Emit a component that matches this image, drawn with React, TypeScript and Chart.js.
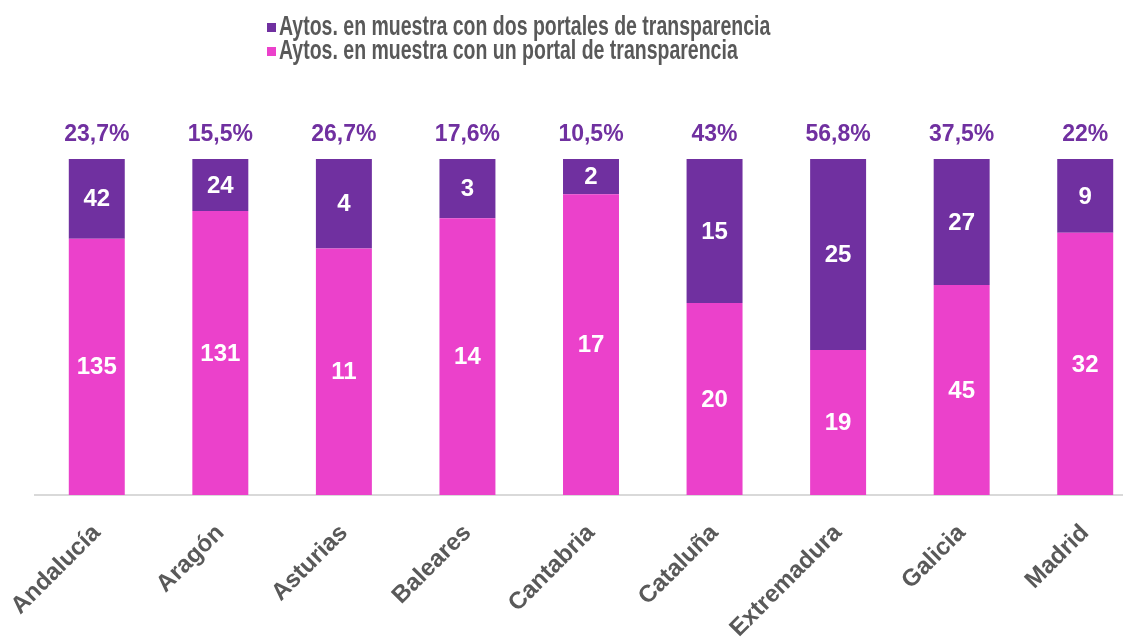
import React, { useEffect, useRef } from "react";
import { Chart, registerables } from "chart.js";

Chart.register(...registerables);

const categories = ["Andalucía", "Aragón", "Asturias", "Baleares", "Cantabria", "Cataluña", "Extremadura", "Galicia", "Madrid"];
const dosPortales = [42, 24, 4, 3, 2, 15, 25, 27, 9];
const unPortal = [135, 131, 11, 14, 17, 20, 19, 45, 32];
const percentLabels = ["23,7%", "15,5%", "26,7%", "17,6%", "10,5%", "43%", "56,8%", "37,5%", "22%"];
const legendLabels = [
  "Aytos. en muestra con dos portales de transparencia",
  "Aytos. en muestra con un portal de transparencia",
];

const PURPLE = "#7030A0";
const PINK = "#EB41CB";
const GRAY = "#595959";
const FONT = "'Liberation Sans', Arial, sans-serif";

const totals = categories.map((_, i) => dosPortales[i] + unPortal[i]);
const shareUn = unPortal.map((v, i) => (v / totals[i]) * 100);
const shareDos = dosPortales.map((v, i) => (v / totals[i]) * 100);

const labelPlugin = {
  id: "customLabels",
  afterDatasetsDraw(chart: any) {
    const ctx = chart.ctx;
    ctx.save();
    ctx.textAlign = "center";
    ctx.textBaseline = "middle";
    const raw = [unPortal, dosPortales];
    chart.data.datasets.forEach((_: any, di: number) => {
      const meta = chart.getDatasetMeta(di);
      meta.data.forEach((el: any, j: number) => {
        ctx.fillStyle = "#FFFFFF";
        ctx.font = `bold 24px ${FONT}`;
        ctx.fillText(String(raw[di][j]), el.x, (el.y + el.base) / 2 + 1);
      });
    });
    const topMeta = chart.getDatasetMeta(1);
    topMeta.data.forEach((el: any, j: number) => {
      ctx.fillStyle = PURPLE;
      ctx.font = `bold 23px ${FONT}`;
      ctx.fillText(percentLabels[j], el.x, el.y - 24);
    });
    ctx.restore();
  },
  afterDraw(chart: any) {
    const ctx = chart.ctx;
    ctx.save();
    const colors = [PURPLE, PINK];
    const baselines = [35, 59];
    legendLabels.forEach((t, i) => {
      ctx.fillStyle = colors[i];
      ctx.fillRect(267, baselines[i] - 12, 9, 9);
      ctx.fillStyle = GRAY;
      ctx.font = `bold 19.5px ${FONT}`;
      ctx.textAlign = "left";
      ctx.textBaseline = "alphabetic";
      ctx.save();
      ctx.translate(279, baselines[i]);
      ctx.scale(1, 1.4);
      ctx.fillText(t, 0, 0);
      ctx.restore();
    });
    ctx.restore();
  },
};

export default function App() {
  const ref = useRef<HTMLCanvasElement | null>(null);
  useEffect(() => {
    document.body.style.margin = "0";
    document.body.style.overflow = "hidden";
    if (!ref.current) return;
    const chart = new Chart(ref.current, {
      type: "bar",
      data: {
        labels: categories,
        datasets: [
          {
            label: legendLabels[1],
            data: shareUn,
            backgroundColor: PINK,
            borderWidth: 0,
            categoryPercentage: 1,
            barPercentage: 0.453,
          },
          {
            label: legendLabels[0],
            data: shareDos,
            backgroundColor: PURPLE,
            borderWidth: 0,
            categoryPercentage: 1,
            barPercentage: 0.453,
          },
        ],
      },
      options: {
        responsive: false,
        animation: false,
        devicePixelRatio: 1,
        layout: { padding: { left: 35, right: 0, top: 159, bottom: 0 } },
        plugins: {
          legend: { display: false },
          tooltip: { enabled: false },
          title: { display: false },
        },
        scales: {
          x: {
            stacked: true,
            grid: { display: false },
            border: { display: true, color: "#D9D9D9", width: 2 },
            ticks: {
              color: GRAY,
              font: { family: FONT, size: 24, weight: "bold" },
              minRotation: 45,
              maxRotation: 45,
              padding: 16,
            },
            afterFit: (scale: any) => {
              scale.height = 142;
              scale.paddingLeft = 0;
              scale.paddingRight = 0;
            },
          },
          y: {
            stacked: true,
            display: false,
            min: 0,
            max: 100,
          },
        },
      },
      plugins: [labelPlugin],
    } as any);
    return () => chart.destroy();
  }, []);
  return (
    <div style={{ width: 1123, height: 637, overflow: "hidden", position: "relative", background: "#fff" }}>
      <canvas ref={ref} width={1147} height={637} style={{ display: "block" }} />
    </div>
  );
}
